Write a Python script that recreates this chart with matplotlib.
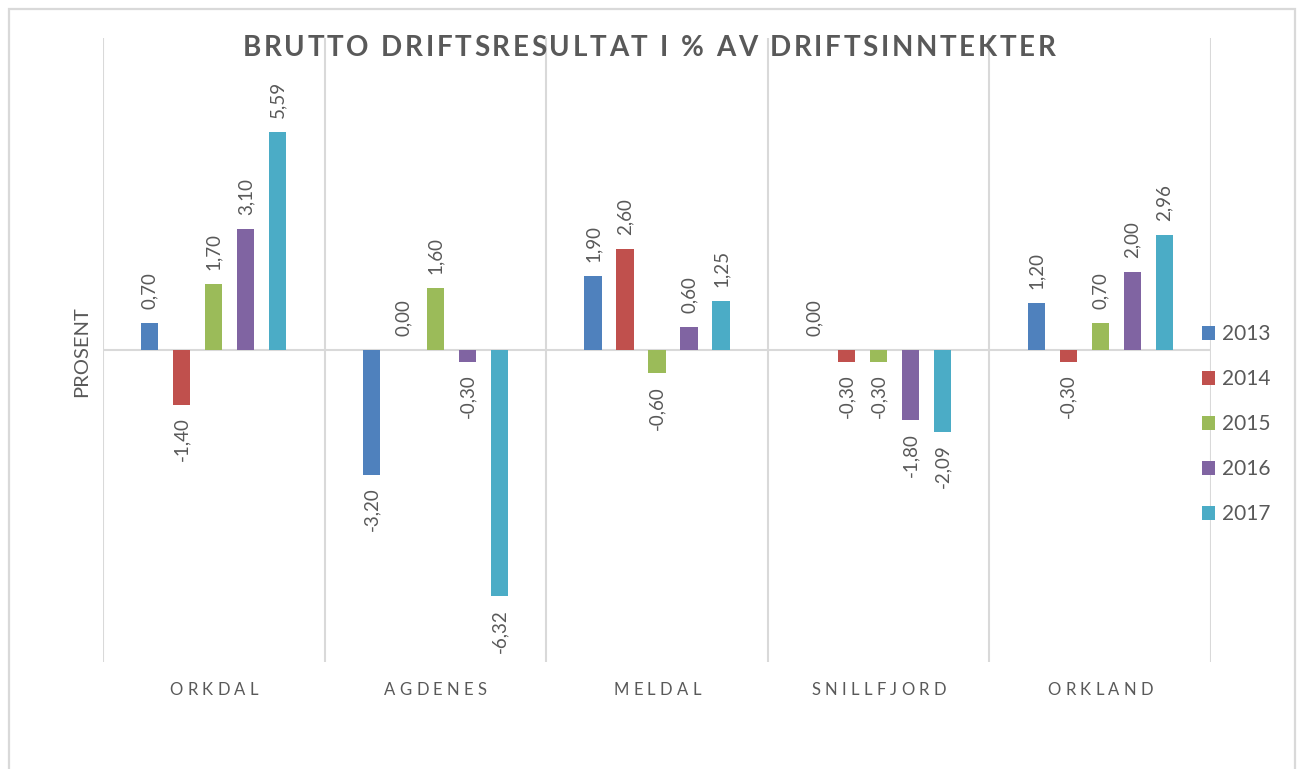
import matplotlib
matplotlib.use("Agg")
import matplotlib.pyplot as plt
import numpy as np
from matplotlib.patches import Rectangle

# --- data ---
categories = ["ORKDAL", "AGDENES", "MELDAL", "SNILLFJORD", "ORKLAND"]
years = ["2013", "2014", "2015", "2016", "2017"]
v2013 = [0.70, -3.20, 1.90, 0.00, 1.20]
v2014 = [-1.40, 0.00, 2.60, -0.30, -0.30]
v2015 = [1.70, 1.60, -0.60, -0.30, 0.70]
v2016 = [3.10, -0.30, 0.60, -1.80, 2.00]
v2017 = [5.59, -6.32, 1.25, -2.09, 2.96]
series = [v2013, v2014, v2015, v2016, v2017]
colors = ["#4F81BD", "#C0504D", "#9BBB59", "#8064A2", "#4BACC6"]

TEXT = "#595959"
GRID = "#D9D9D9"
FONT = "Lato"

plt.rcParams["font.family"] = [FONT, "DejaVu Sans"]


def tracked_text(fig, x, y, s, spacing, **kw):
    """Draw text centred on (x, y) in figure pixels with extra letter spacing."""
    r = fig.canvas.get_renderer()
    widths = []
    for ch in s:
        t = fig.text(0, 0, ch if ch != " " else "n", **kw)
        w = t.get_window_extent(r).width
        if ch == " ":
            w *= 0.45
        widths.append(w)
        t.remove()
    total = sum(widths) + spacing * (len(s) - 1)
    cx = x - total / 2
    W, H = fig.bbox.width, fig.bbox.height
    for ch, w in zip(s, widths):
        if ch != " ":
            fig.text(cx / W, y / H, ch, ha="left", va="center", **kw)
        cx += w + spacing


fig = plt.figure(figsize=(13, 7.69), dpi=100, facecolor="white")
W, H = 1300, 769

# outer chart border
fig.patches.append(Rectangle((9 / W, -0.1), (1295 - 9) / W, 1.1 - 9 / H,
                             transform=fig.transFigure, fill=False,
                             edgecolor=GRID, linewidth=1.6))

ax = fig.add_axes([103 / W, (H - 662) / H, (1211 - 103) / W, (662 - 38) / H])
ax.set_xlim(0, len(categories))
ax.set_ylim(-8, 8)
for s in ax.spines.values():
    s.set_visible(False)
ax.set_xticks([])
ax.set_yticks([])

for b in range(len(categories) + 1):
    ax.axvline(b, color=GRID, linewidth=1.5, zorder=0)
ax.axhline(0, color=GRID, linewidth=1.5, zorder=0)

step = 0.1444
width = 0.077
x = np.arange(len(categories)) + 0.5
for i, (vals, c, yr) in enumerate(zip(series, colors, years)):
    xs = x + (i - 2) * step
    ax.bar(xs, vals, width, color=c, label=yr, zorder=2)
    for xi, v in zip(xs, vals):
        lab = f"{v:.2f}".replace(".", ",")
        if v >= 0:
            ax.annotate(lab, (xi, v), xytext=(0, 10), textcoords="offset points",
                        rotation=90, ha="center", va="bottom", color=TEXT, fontsize=13.5)
        else:
            ax.annotate(lab, (xi, v), xytext=(0, -9), textcoords="offset points",
                        rotation=90, ha="center", va="top", color=TEXT, fontsize=13.5)

leg = ax.legend(loc="center left", bbox_to_anchor=(1183 / W, 1 - 424 / H), bbox_transform=fig.transFigure,
                frameon=False, fontsize=15, handlelength=0.65, handleheight=0.65,
                handletextpad=0.3, labelspacing=1.2, labelcolor=TEXT)

fig.text(82 / W, 1 - 352 / H, "PROSENT", rotation=90, ha="center", va="center",
         color=TEXT, fontsize=14.5)

fig.canvas.draw()
tracked_text(fig, 649, H - 48, "BRUTTO DRIFTSRESULTAT I % AV DRIFTSINNTEKTER", 2.7,
             color=TEXT, fontsize=20, fontweight="bold")
for i, cat in enumerate(categories):
    cx = 103 + (i + 0.5) * (1211 - 103) / len(categories)
    tracked_text(fig, cx, H - 690, cat, 4.3, color=TEXT, fontsize=12)

fig.savefig("out.png", dpi=100, facecolor="white")
